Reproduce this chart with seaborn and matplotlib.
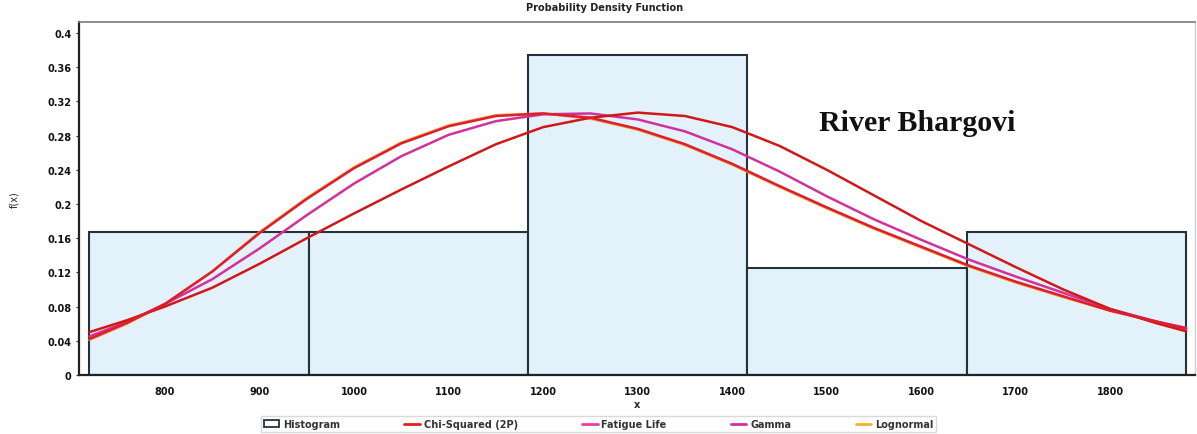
import numpy as np
import matplotlib
matplotlib.use("Agg")
import matplotlib.pyplot as plt
import seaborn as sns
from matplotlib.patches import Patch
from matplotlib.lines import Line2D

# histogram (relative frequency per class)
bin_edges = [720, 952, 1184, 1416, 1648, 1880]
hist_heights = [0.1667, 0.1667, 0.375, 0.125, 0.1667]

# fitted curves, values read at these x positions
x_grid = [720, 760, 800, 850, 900, 950, 1000, 1050, 1100, 1150, 1200, 1250, 1300,
          1350, 1400, 1450, 1500, 1550, 1600, 1650, 1700, 1750, 1800, 1850, 1880]
chi_squared = [0.050, 0.064, 0.080, 0.102, 0.130, 0.160, 0.189, 0.217, 0.244, 0.270, 0.290, 0.301, 0.307,
               0.303, 0.290, 0.268, 0.240, 0.210, 0.180, 0.153, 0.126, 0.100, 0.077, 0.060, 0.051]
fatigue_life = [0.042, 0.061, 0.083, 0.121, 0.166, 0.206, 0.242, 0.271, 0.291, 0.303, 0.306, 0.301, 0.288,
                0.270, 0.247, 0.221, 0.196, 0.172, 0.150, 0.128, 0.109, 0.092, 0.075, 0.062, 0.054]
gamma = [0.045, 0.062, 0.083, 0.112, 0.148, 0.187, 0.224, 0.256, 0.281, 0.297, 0.305, 0.306, 0.299,
         0.285, 0.264, 0.238, 0.209, 0.182, 0.158, 0.135, 0.115, 0.096, 0.077, 0.062, 0.055]
lognormal = [0.041, 0.060, 0.083, 0.121, 0.167, 0.207, 0.243, 0.272, 0.292, 0.304, 0.306, 0.300, 0.287,
             0.269, 0.246, 0.220, 0.195, 0.171, 0.149, 0.127, 0.108, 0.091, 0.075, 0.062, 0.054]

x_ticks = [800, 900, 1000, 1100, 1200, 1300, 1400, 1500, 1600, 1700, 1800]
y_ticks = [0, 0.04, 0.08, 0.12, 0.16, 0.2, 0.24, 0.28, 0.32, 0.36, 0.4]
y_labels = ["0", "0.04", "0.08", "0.12", "0.16", "0.2", "0.24", "0.28", "0.32", "0.36", "0.4"]

sns.set_style("white")
plt.rcParams["font.family"] = ["DejaVu Sans"]

fig = plt.figure(figsize=(11.97, 4.35), dpi=100)
ax = fig.add_axes([0.066, 0.136, 0.932, 0.811])

bin_mids = [(a + b) / 2 for a, b in zip(bin_edges[:-1], bin_edges[1:])]
sns.histplot(x=bin_mids, weights=hist_heights, bins=bin_edges, stat="count",
             color="#e3f1fb", edgecolor="#25313b", linewidth=1.5, alpha=1, ax=ax)

curves = [
    ("Lognormal", lognormal, "#f0a030"),
    ("Gamma", gamma, "#d2309a"),
    ("Chi-Squared (2P)", chi_squared, "#d01818"),
    ("Fatigue Life", fatigue_life, "#dc1f30"),
]
for name, vals, col in curves:
    sns.lineplot(x=x_grid, y=vals, color=col, linewidth=1.8, ax=ax,
                 solid_joinstyle="round")

ax.set_xlim(709, 1889)
ax.set_ylim(0, 0.413)
ax.set_xticks(x_ticks)
ax.set_xticklabels([str(t) for t in x_ticks])
ax.set_xticks(np.arange(725, 1880, 25), minor=True)
ax.set_yticks(y_ticks)
ax.set_yticklabels(y_labels)
ax.tick_params(axis="x", which="both", direction="in", length=3, width=1, colors="#333333",
               labelsize=7, pad=8, bottom=True)
ax.tick_params(axis="y", direction="out", length=2, labelsize=7, colors="#333333", left=True)
for lab in ax.get_xticklabels() + ax.get_yticklabels():
    lab.set_color("#111111")
    lab.set_fontweight("bold")

for side in ["left", "bottom"]:
    ax.spines[side].set_color("#222222")
    ax.spines[side].set_linewidth(1.6)
ax.spines["top"].set_color("#7a7a7a")
ax.spines["top"].set_linewidth(1.2)
ax.spines["right"].set_color("#cfcfcf")
ax.spines["right"].set_linewidth(1.0)

ax.set_xlabel("x", fontsize=7, fontweight="bold", labelpad=2)
ax.set_ylabel("f(x)", fontsize=7, labelpad=20)
fig.text(0.505, 0.982, "Probability Density Function", ha="center", va="center",
         fontsize=7, fontweight="bold", color="#222222")

ax.text(1492, 0.287, "River Bhargovi", fontsize=21.5, fontweight="bold",
        family="Liberation Serif", color="#111111", ha="left", va="baseline")

handles = [Patch(facecolor="white", edgecolor="#25313b", linewidth=1.3)]
labels = ["Histogram"]
for name, col in [("Chi-Squared (2P)", "#e02020"), ("Fatigue Life", "#e8409a"),
                  ("Gamma", "#d2309a"), ("Lognormal", "#f0b040")]:
    handles.append(Line2D([0], [0], color=col, linewidth=2))
    labels.append(name)
leg = fig.legend(handles, labels, loc="center", bbox_to_anchor=(0.5, 0.023), ncol=5,
                 fontsize=7, frameon=True, fancybox=False, edgecolor="#d0d0d0",
                 handlelength=1.6, handletextpad=0.4, columnspacing=6.6, borderpad=0.3)
for t in leg.get_texts():
    t.set_fontweight("bold")
    t.set_color("#333333")

fig.savefig("out.png", dpi=100)
